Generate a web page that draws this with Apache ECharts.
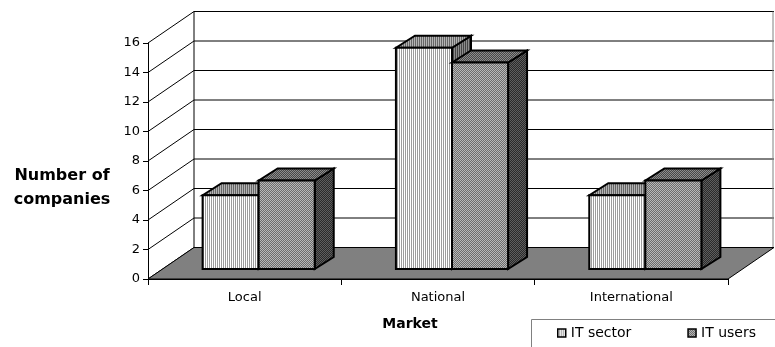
<!DOCTYPE html>
<html>
<head>
<meta charset="utf-8">
<script src="https://cdn.jsdelivr.net/npm/echarts@6/dist/echarts.min.js"></script>
<style>
  html, body { margin: 0; padding: 0; background: #fff; }
  #chart { width: 775px; height: 347px; }
</style>
</head>
<body>
<div id="chart"></div>
<script>
// ---- data ----
const markets = ['Local', 'National', 'International'];
const itSector = [5, 15, 5];
const itUsers = [6, 14, 6];
const yTicks = [0, 2, 4, 6, 8, 10, 12, 14, 16];
const seriesNames = ['IT sector', 'IT users'];
const yTitle = 'Number of\ncompanies';
const xTitle = 'Market';

// ---- oblique 3D look ----
const WALL_DX = 46, WALL_DY = -31.5;   // depth of floor / back wall
const BAR_SX = 14, BAR_SY = -10;       // bars stand a little way into the floor
const BAR_DX = 19, BAR_DY = -12;       // depth of each bar
const BAR_FRAC = 0.29;                 // bar width as share of a category band
const FONT = "'DejaVu Sans', 'Liberation Sans', Arial, sans-serif";

function pattern(w, h, paint) {
  const c = document.createElement('canvas');
  c.width = w; c.height = h;
  paint(c.getContext('2d'));
  return { image: c, repeat: 'repeat' };
}
function stripes(a, b) {
  return pattern(2, 1, g => {
    g.fillStyle = a; g.fillRect(0, 0, 1, 1);
    g.fillStyle = b; g.fillRect(1, 0, 1, 1);
  });
}
function checker(a, b) {
  return pattern(2, 2, g => {
    g.fillStyle = a; g.fillRect(0, 0, 2, 2);
    g.fillStyle = b; g.fillRect(0, 0, 1, 1); g.fillRect(1, 1, 1, 1);
  });
}

const sectorFaces = {
  front: stripes('#ffffff', '#9c9c9c'),
  top: stripes('#b4b4b4', '#666666'),
  side: stripes('#8c8c8c', '#444444')
};
const usersFaces = {
  front: checker('#6c6c6c', '#b8b8b8'),
  top: checker('#474747', '#8c8c8c'),
  side: checker('#2a2a2a', '#5e5e5e')
};

function barRenderer(slot, faces) {
  return function (params, api) {
    const cat = api.value(0), val = api.value(1);
    const base = api.coord([cat, 0]);
    const top = api.coord([cat, val]);
    const w = api.size([1, 0])[0] * BAR_FRAC;
    const x = base[0] + (slot === 0 ? -w : 0) + BAR_SX;
    const yb = base[1] + BAR_SY, yt = top[1] + BAR_SY;
    const edge = { stroke: '#000', lineWidth: 2, lineJoin: 'miter' };
    return {
      type: 'group',
      children: [
        { type: 'polygon',
          shape: { points: [[x + w, yt], [x + w + BAR_DX, yt + BAR_DY], [x + w + BAR_DX, yb + BAR_DY], [x + w, yb]] },
          style: Object.assign({ fill: faces.side }, edge) },
        { type: 'polygon',
          shape: { points: [[x, yt], [x + BAR_DX, yt + BAR_DY], [x + w + BAR_DX, yt + BAR_DY], [x + w, yt]] },
          style: Object.assign({ fill: faces.top }, edge) },
        { type: 'rect',
          shape: { x: x, y: yt, width: w, height: yb - yt },
          style: Object.assign({ fill: faces.front }, edge) }
      ]
    };
  };
}

// gridline on the side wall (diagonal) and on the back wall
function wallRenderer(params, api) {
  const cs = params.coordSys;
  const y = api.coord([0, api.value(1)])[1];
  const x0 = cs.x, x1 = cs.x + cs.width;
  return {
    type: 'group',
    children: [
      { type: 'line', shape: { x1: x0, y1: y, x2: x0 + WALL_DX, y2: y + WALL_DY }, style: { stroke: '#000', lineWidth: 1 } },
      { type: 'line', shape: { x1: x0 + WALL_DX, y1: y + WALL_DY, x2: x1 + WALL_DX, y2: y + WALL_DY }, style: { stroke: '#000', lineWidth: 1 } }
    ]
  };
}

// floor plane and back wall edges
function floorRenderer(params, api) {
  const cs = params.coordSys;
  const x0 = cs.x, x1 = cs.x + cs.width;
  const yTop = api.coord([0, yTicks[yTicks.length - 1]])[1];
  const yBot = api.coord([0, yTicks[0]])[1];
  return {
    type: 'group',
    children: [
      { type: 'line', shape: { x1: x0 + WALL_DX, y1: yTop + WALL_DY, x2: x0 + WALL_DX, y2: yBot + WALL_DY }, style: { stroke: '#000', lineWidth: 1 } },
      { type: 'line', shape: { x1: x1 + WALL_DX - 1, y1: yTop + WALL_DY, x2: x1 + WALL_DX - 1, y2: yBot + WALL_DY }, style: { stroke: '#808080', lineWidth: 1 } },
      { type: 'polygon',
        shape: { points: [[x0, yBot], [x1, yBot], [x1 + WALL_DX, yBot + WALL_DY], [x0 + WALL_DX, yBot + WALL_DY]] },
        style: { fill: '#808080', stroke: '#000', lineWidth: 1 } }
    ]
  };
}

const chart = echarts.init(document.getElementById('chart'), null, { renderer: 'canvas' });
chart.setOption({
  animation: false,
  backgroundColor: '#ffffff',
  textStyle: { fontFamily: FONT, color: '#000' },
  grid: { left: 148, right: 47, top: 43, bottom: 68, containLabel: false },
  graphic: [
    // legend frame, running off the right and bottom edges
    { type: 'rect', left: 531, top: 319, z: 0,
      shape: { width: 300, height: 60 },
      style: { fill: '#fff', stroke: '#808080', lineWidth: 1 } },
    // value-axis title
    { type: 'text', x: 62, y: 188, z: 5,
      style: { text: yTitle, font: "bold 16px " + FONT, fill: '#000', align: 'center', verticalAlign: 'middle', lineHeight: 24 } }
  ],
  legend: {
    left: 557, top: 326,
    orient: 'horizontal',
    padding: 0,
    itemWidth: 8, itemHeight: 8, itemGap: 56,
    icon: 'rect',
    z: 6,
    textStyle: { fontFamily: FONT, fontSize: 14, color: '#000' },
    data: [
      { name: seriesNames[0], itemStyle: { color: sectorFaces.front, borderColor: '#000', borderWidth: 1.5 } },
      { name: seriesNames[1], itemStyle: { color: usersFaces.front, borderColor: '#000', borderWidth: 1.5 } }
    ]
  },
  xAxis: {
    type: 'category',
    data: markets,
    name: xTitle,
    nameLocation: 'middle',
    nameGap: 38,
    nameTextStyle: { fontFamily: FONT, fontSize: 14, fontWeight: 'bold', color: '#000', padding: [0, 56, 0, 0] },
    axisLine: { show: true, lineStyle: { color: '#000', width: 1 } },
    axisTick: { show: true, length: 6, lineStyle: { color: '#000' } },
    axisLabel: { fontFamily: FONT, fontSize: 13, color: '#000', margin: 12 },
    splitLine: { show: false }
  },
  yAxis: {
    type: 'value',
    min: 0, max: 16, interval: 2,
    axisLine: { show: true, lineStyle: { color: '#000', width: 1 } },
    axisTick: { show: true, length: 5, lineStyle: { color: '#000' } },
    axisLabel: { fontFamily: FONT, fontSize: 13, color: '#000', margin: 8 },
    splitLine: { show: false }
  },
  series: [
    { type: 'custom', name: 'wall', z: 1, clip: false, silent: true,
      renderItem: wallRenderer,
      data: yTicks.map(v => [0, v]), encode: { x: 0, y: 1 } },
    { type: 'custom', name: 'floor', z: 2, clip: false, silent: true,
      renderItem: floorRenderer,
      data: [[0, 0]], encode: { x: 0, y: 1 } },
    { type: 'custom', name: seriesNames[0], z: 3, clip: false,
      itemStyle: { color: sectorFaces.front },
      renderItem: barRenderer(0, sectorFaces),
      data: itSector.map((v, i) => [i, v]), encode: { x: 0, y: 1 } },
    { type: 'custom', name: seriesNames[1], z: 4, clip: false,
      itemStyle: { color: usersFaces.front },
      renderItem: barRenderer(1, usersFaces),
      data: itUsers.map((v, i) => [i, v]), encode: { x: 0, y: 1 } }
  ]
});
</script>
</body>
</html>
